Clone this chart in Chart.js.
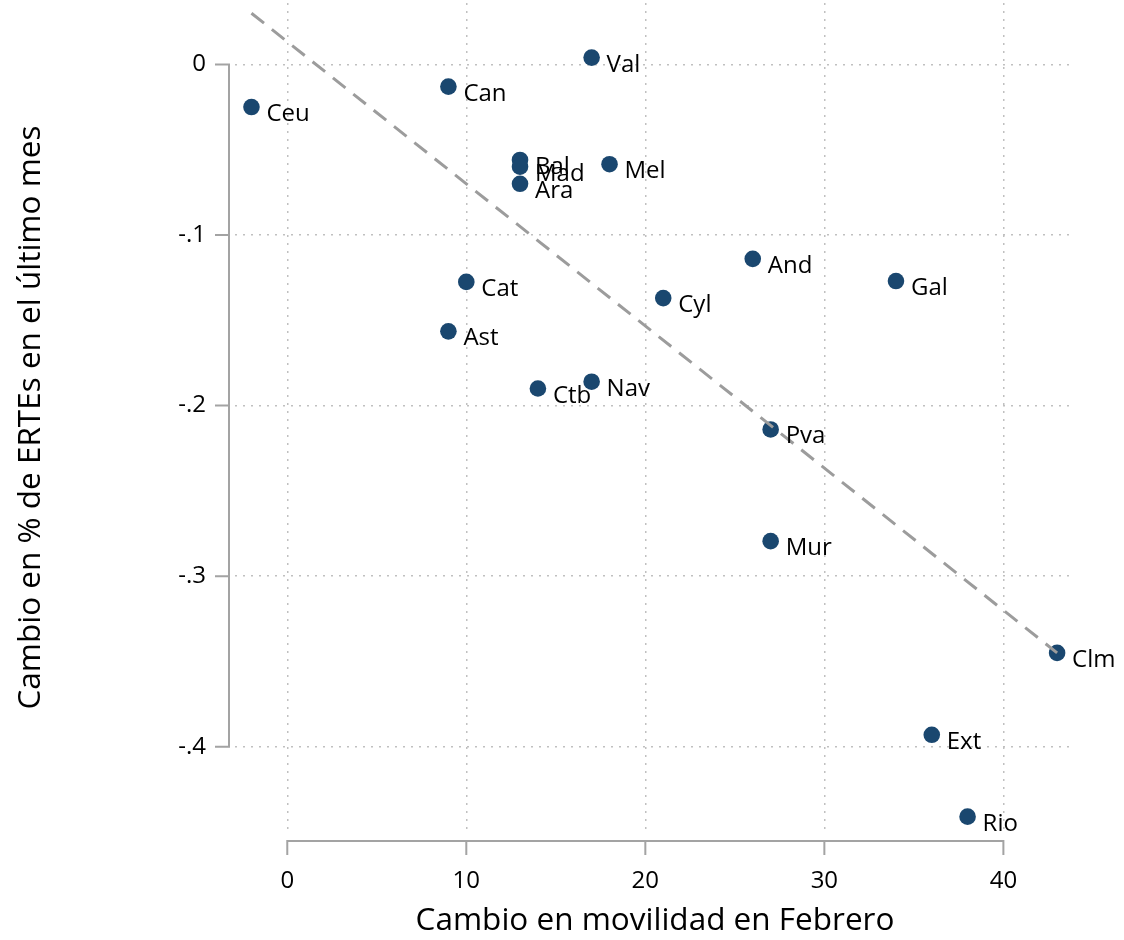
<!DOCTYPE html>
<html>
<head>
<meta charset="utf-8">
<script src="https://cdn.jsdelivr.net/npm/chart.js@4/dist/chart.umd.min.js"></script>
<style>
  html, body { margin: 0; padding: 0; background: #fff; }
  .wrap { width: 1124px; height: 940px; }
</style>
</head>
<body>
<div class="wrap"><canvas id="myChart" width="1124" height="940"></canvas></div>
<script>
// comunidades autonomas
var regions = ['Ceu', 'Can', 'Val', 'Bal', 'Mad', 'Ara', 'Mel', 'Cat', 'Ast', 'Ctb',
  'Nav', 'Cyl', 'And', 'Gal', 'Pva', 'Mur', 'Clm', 'Ext', 'Rio'];
var movilidad = [-2, 9, 17, 13, 13, 13, 18, 10, 9, 14, 17, 21, 26, 34, 27, 27, 43, 36, 38];
var ertes = [-0.025, -0.013, 0.004, -0.056, -0.060, -0.070, -0.0585, -0.1275, -0.1565, -0.190,
  -0.186, -0.137, -0.114, -0.127, -0.214, -0.2795, -0.345, -0.393, -0.441];
// linear fit end points
var fitX = [-2, 43];
var fitY = [0.030, -0.345];
var xTicks = [0, 10, 20, 30, 40];
var yTicks = [0, -0.1, -0.2, -0.3, -0.4];

var FONT = "'Open Sans', sans-serif";
Chart.defaults.font.family = FONT;
Chart.defaults.color = '#000';

// stata style axes: line only between first and last tick
var axesPlugin = {
  id: 'stataAxes',
  afterDraw: function (chart) {
    var ctx = chart.ctx, xs = chart.scales.x, ys = chart.scales.y, area = chart.chartArea;
    ctx.save();
    ctx.strokeStyle = '#a3a3a3';
    ctx.lineWidth = 2;
    var ax = area.left - 6;
    ctx.beginPath();
    ctx.moveTo(ax, ys.getPixelForValue(yTicks[0]) - 1);
    ctx.lineTo(ax, ys.getPixelForValue(yTicks[yTicks.length - 1]) + 1);
    yTicks.forEach(function (v) {
      var p = ys.getPixelForValue(v);
      ctx.moveTo(ax, p);
      ctx.lineTo(ax - 14, p);
    });
    var ay = area.bottom + 9;
    ctx.moveTo(xs.getPixelForValue(xTicks[0]) - 1, ay);
    ctx.lineTo(xs.getPixelForValue(xTicks[xTicks.length - 1]) + 1, ay);
    xTicks.forEach(function (v) {
      var p = xs.getPixelForValue(v);
      ctx.moveTo(p, ay);
      ctx.lineTo(p, ay + 14);
    });
    ctx.stroke();
    ctx.restore();
  }
};

var labelPlugin = {
  id: 'pointLabels',
  afterDatasetsDraw: function (chart) {
    var ctx = chart.ctx;
    var meta = chart.getDatasetMeta(1);
    ctx.save();
    ctx.font = '24px ' + FONT;
    ctx.fillStyle = '#000';
    ctx.textAlign = 'left';
    ctx.textBaseline = 'alphabetic';
    meta.data.forEach(function (pt, i) {
      ctx.fillText(regions[i], pt.x + 15, pt.y + 14);
    });
    ctx.restore();
  }
};

var ctx = document.getElementById('myChart').getContext('2d');
var myChart = new Chart(ctx, {
  type: 'scatter',
  data: {
    datasets: [{
      label: 'Ajuste',
      data: fitX.map(function (x, i) { return { x: x, y: fitY[i] }; }),
      showLine: true,
      borderColor: '#9c9c9c',
      borderWidth: 3,
      borderDash: [16, 10],
      pointRadius: 0,
      fill: false
    }, {
      label: 'CCAA',
      data: movilidad.map(function (x, i) { return { x: x, y: ertes[i] }; }),
      backgroundColor: '#1a476f',
      borderColor: '#1a476f',
      borderWidth: 0,
      pointRadius: 8.3
    }]
  },
  options: {
    responsive: false,
    animation: false,
    devicePixelRatio: 1,
    layout: { padding: { top: 3, right: 49, bottom: 0, left: 0 }, autoPadding: false },
    plugins: { legend: { display: false }, tooltip: { enabled: false } },
    scales: {
      x: {
        type: 'linear',
        min: -2.92,
        max: 44.0,
        afterBuildTicks: function (s) { s.ticks = xTicks.map(function (v) { return { value: v }; }); },
        afterFit: function (s) { s.height = 108; s.paddingLeft = 0; s.paddingRight = 0; },
        grid: { color: '#c0c0c0', lineWidth: 1.5, drawTicks: false },
        border: { display: false, dash: [2, 6] },
        ticks: { font: { size: 24 }, padding: 35, maxRotation: 0 },
        title: { display: true, text: 'Cambio en movilidad en Febrero', font: { size: 31.5 }, padding: { top: 0, bottom: 0 } }
      },
      y: {
        type: 'linear',
        min: -0.45,
        max: 0.036,
        afterBuildTicks: function (s) { s.ticks = yTicks.map(function (v) { return { value: v }; }); },
        afterFit: function (s) { s.width = 235; s.paddingTop = 0; s.paddingBottom = 0; },
        grid: { color: '#c0c0c0', lineWidth: 1.5, drawTicks: false },
        border: { display: false, dash: [2, 6] },
        ticks: {
          font: { size: 24 },
          padding: 29,
          callback: function (v) {
            var r = Math.round(v * 10) / 10;
            return r === 0 ? '0' : String(r).replace('0.', '.');
          }
        },
        title: { display: true, text: 'Cambio en % de ERTEs en el último mes', font: { size: 31.5 }, padding: { top: 12, bottom: 0 } }
      }
    }
  },
  plugins: [axesPlugin, labelPlugin]
});
</script>
</body>
</html>
